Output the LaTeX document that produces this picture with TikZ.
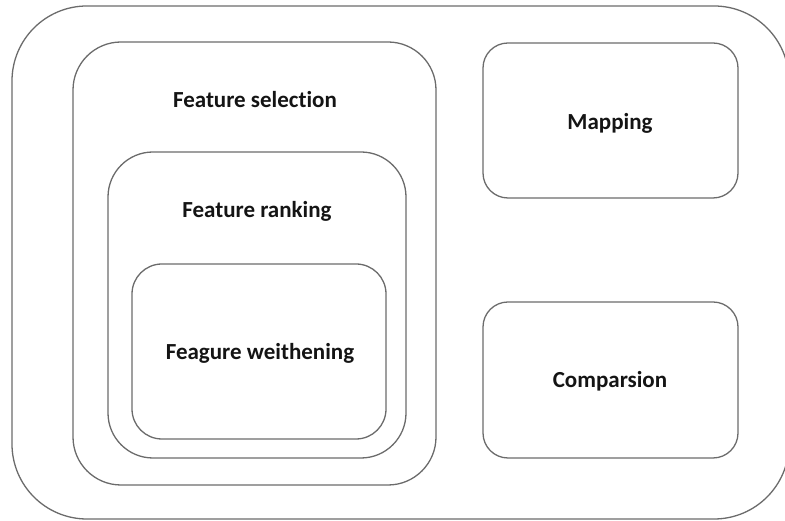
\documentclass[tikz,border=0pt]{standalone}
\usepackage{fontspec}
\setmainfont[Ligatures={NoCommon}]{Carlito}
\begin{document}
\begin{tikzpicture}[x=1pt,y=1pt,
  box/.style={draw=black!58,line width=1.3pt,inner sep=0pt,outer sep=0pt},
  lbl/.style={font=\bfseries\fontsize{23}{27}\selectfont,text=black!92,inner sep=0pt}]
\useasboundingbox (0,0) rectangle (785,521);
\clip (0,0) rectangle (785,521);
\node[box,rounded corners=75pt,minimum width=777pt,minimum height=513pt] (outer) at (400.5,258.5) {};
\node[box,rounded corners=48pt,minimum width=363pt,minimum height=443pt] (fs) at (254.5,257.5) {};
\node[box,rounded corners=45pt,minimum width=298pt,minimum height=306pt] (fr) at (257,216) {};
\node[box,rounded corners=30pt,minimum width=254pt,minimum height=175pt] (fw) at (259,169.5) {};
\node[box,rounded corners=25pt,minimum width=255pt,minimum height=155pt] (map) at (610.5,400.5) {};
\node[box,rounded corners=25pt,minimum width=255pt,minimum height=156pt] (cmp) at (610.5,141) {};
\node[lbl] (fst) at (255,421) {Feature selection};
\node[lbl] (frt) at (257,310) {Feature ranking};
\node[lbl] (fwt) at (260,168) {Feagure weithening};
\node[lbl] (mapt) at (610,398) {Mapping};
\node[lbl] (cmpt) at (610,140) {Comparsion};
\end{tikzpicture}
\end{document}
